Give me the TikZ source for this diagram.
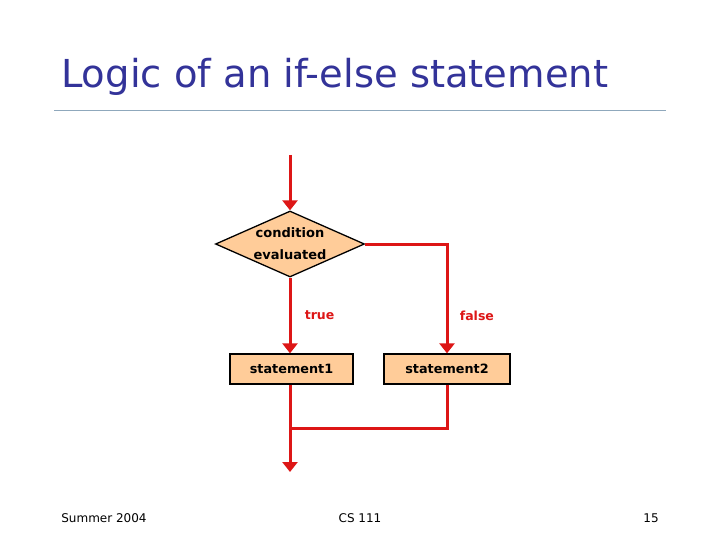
\documentclass[tikz,border=0pt]{standalone}
\usepackage{fontspec}
\setmainfont{DejaVu Sans}
\usepackage{tikz}
\usetikzlibrary{positioning,arrows.meta,shapes.geometric}
\definecolor{titleblue}{HTML}{333399}
\definecolor{rulegray}{HTML}{8FA8BC}
\definecolor{flowred}{HTML}{DD1616}
\definecolor{boxfill}{HTML}{FFCC99}

\begin{document}
\begin{tikzpicture}[x=1pt,y=-1pt,font=\small]
  \tikzstyle{flow}=[flowred,line width=3pt]
  \tikzstyle{arrow}=[flow,-{Triangle[length=10pt,width=15pt]}]
  \tikzstyle{stmt}=[draw=black,line width=1.3pt,fill=boxfill,minimum width=123pt,
    minimum height=30pt,inner sep=0pt,font=\fontsize{12.8}{14}\selectfont\bfseries]
  \tikzstyle{label}=[text=flowred,font=\fontsize{12.5}{14}\selectfont\bfseries]
  \tikzstyle{footer}=[font=\fontsize{12}{14}\selectfont,anchor=base]
  \useasboundingbox[fill=white] (0,0) rectangle (720,540);
  % slide title and rule
  \node[anchor=base west,text=titleblue,font=\fontsize{38.5}{44}\selectfont,inner sep=0pt]
    (title) at (61,88) {Logic of an if-else statement};
  \draw[rulegray,line width=1pt] (54,111) -- (666,111);
  % flowchart
  \coordinate (start) at (290,155);
  \node[diamond,draw=black,line width=1.3pt,fill=boxfill,aspect=2.26,
    minimum width=149pt,minimum height=66pt,inner sep=0pt,align=center,
    font=\fontsize{13}{22}\selectfont\bfseries] (cond) at (290,244)
    {condition\\evaluated};
  \node[stmt] (stmtA) at (291.5,369) {statement1};
  \node[stmt,minimum width=126pt] (stmtB) at (447,369) {statement2};
  \coordinate (stop) at (290,472);
  \draw[arrow] (start) -- (cond.north);
  \draw[arrow] (cond.south) -- (stmtA.north -| cond.south)
    node[label,midway,right=10pt]{true};
  \draw[arrow] (cond.east) -| (stmtB.north)
    node[label,pos=0.83,right=8pt]{false};
  \draw[arrow] (stmtA.south -| cond.south) -- (stop);
  \draw[flow] (stmtB.south) |- (290,428);
  % footer
  \node[footer] (season) at (104,522) {Summer 2004};
  \node[footer] (course) at (360,522) {CS 111};
  \node[footer] (page) at (651,522) {15};
\end{tikzpicture}
\end{document}
